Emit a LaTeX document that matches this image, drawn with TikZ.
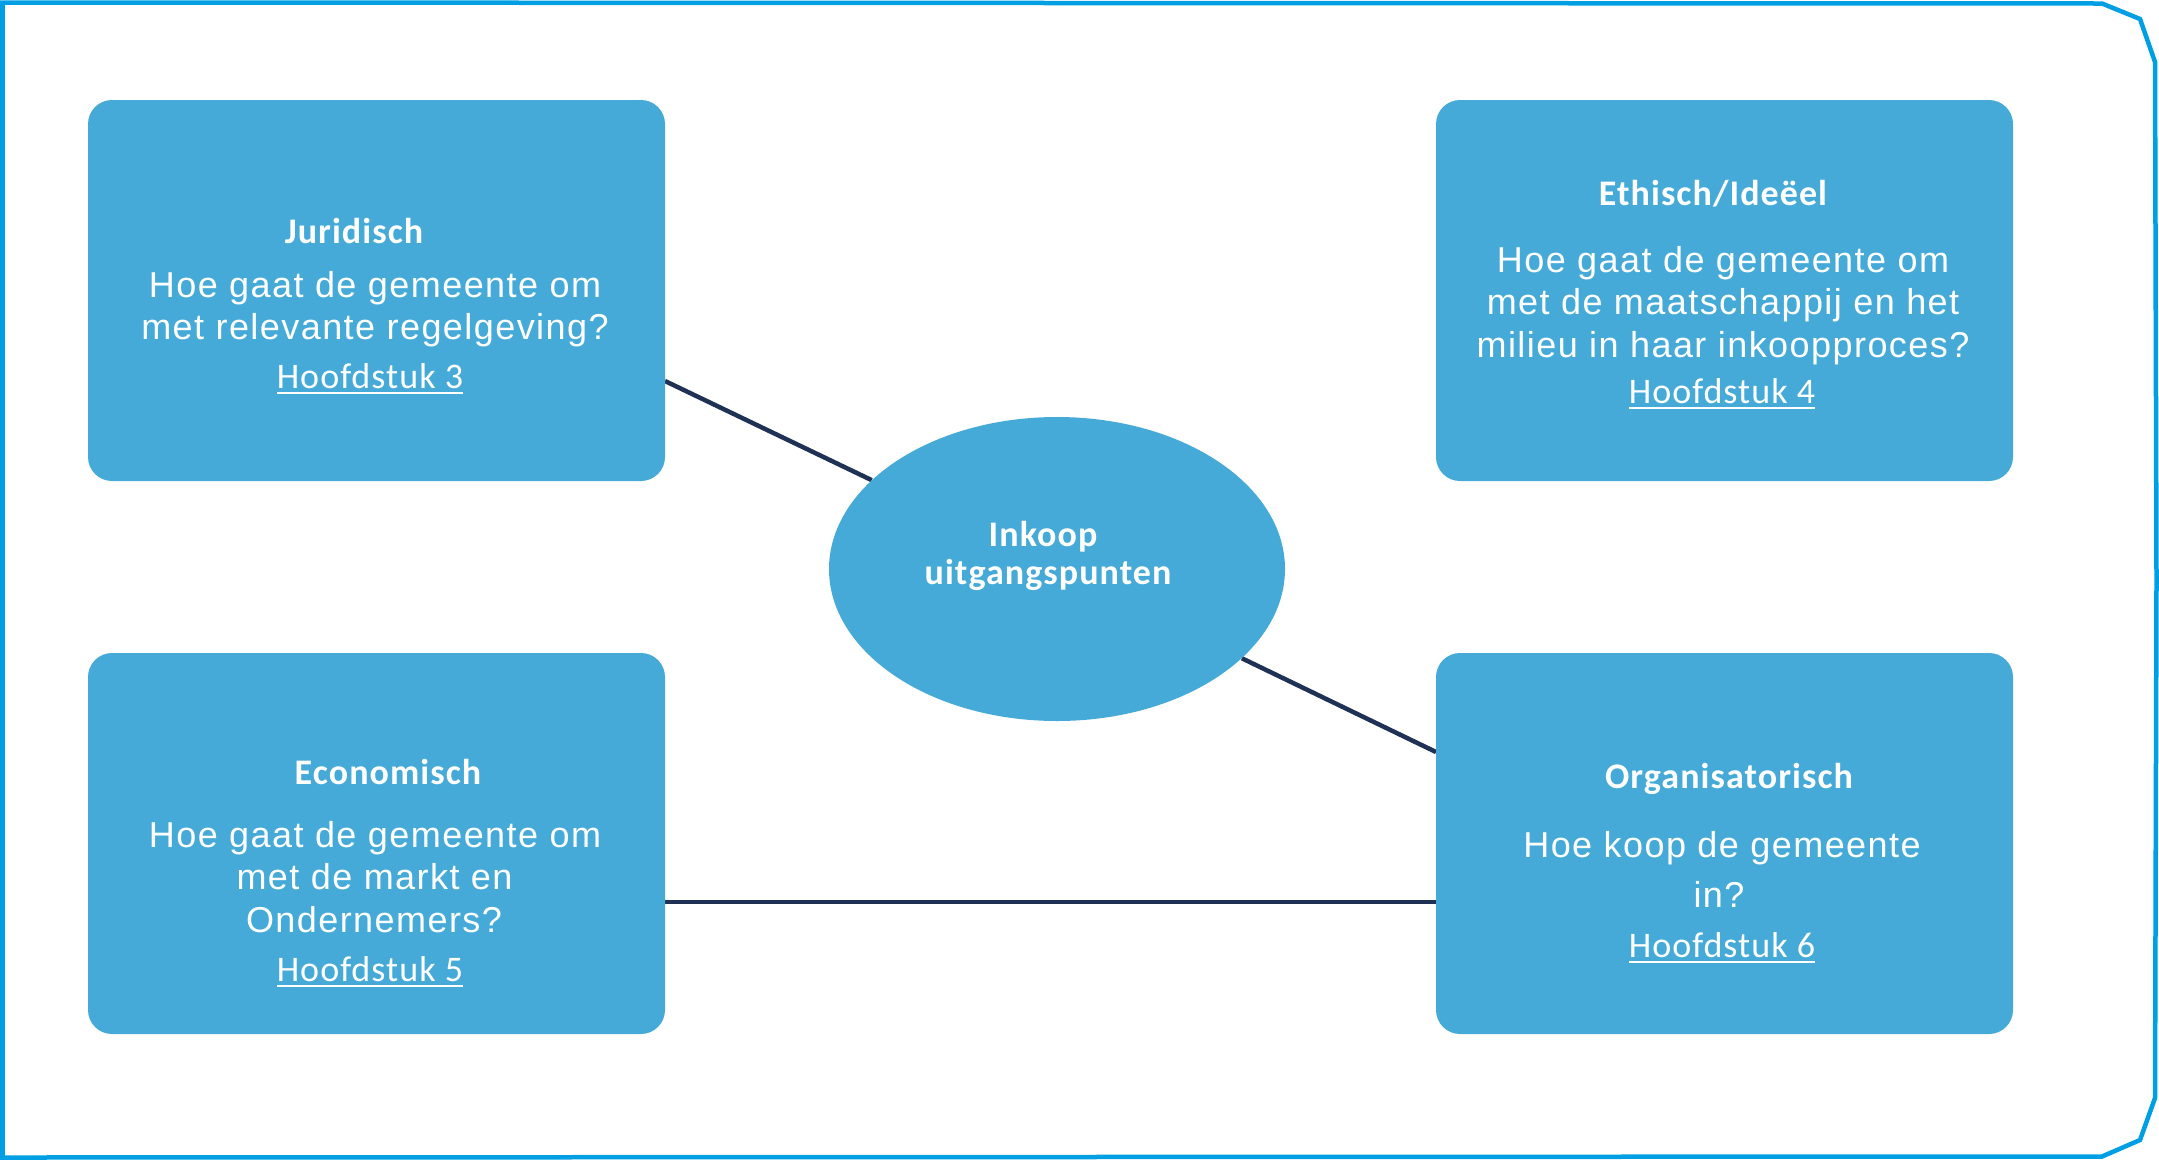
\documentclass[tikz,border=0pt]{standalone}
\usepackage{fontspec}
\setmainfont{Liberation Sans}
\newfontfamily\bodyfont[LetterSpace=4]{Liberation Sans}
\newfontfamily\calfont[LetterSpace=3]{Carlito}
\usetikzlibrary{shapes.geometric,backgrounds}
\definecolor{boxblue}{RGB}{69,170,216}
\definecolor{frameblue}{RGB}{0,159,227}
\definecolor{linenavy}{RGB}{31,49,84}
\newcommand\chapul[1]{\setbox0\hbox{#1}\rlap{\rule[-6pt]{\wd0}{2pt}}\box0}
\begin{document}
\begin{tikzpicture}[x=1pt,y=-1pt,
  card/.style={fill=boxblue, rounded corners=24pt, minimum width=577pt, minimum height=381pt, inner sep=0pt},
  hub/.style={ellipse, fill=boxblue, minimum width=456pt, minimum height=304pt, inner sep=0pt},
  conn/.style={draw=linenavy, line width=4.5pt},
  frame/.style={draw=frameblue, line width=4.5pt, line join=miter},
  title/.style={anchor=base, inner sep=0pt, text=white, font=\calfont\bfseries\fontsize{36}{42}\selectfont},
  body/.style={anchor=base, inner sep=0pt, text=white, font=\bodyfont\fontsize{36}{42}\selectfont},
  chap/.style={anchor=base, inner sep=0pt, text=white, font=\calfont\fontsize{36}{42}\selectfont},
]
\useasboundingbox (0,0) rectangle (2159,1160);

% outer frame
\draw[frame] (2.5,2.5) -- (2102,3.5) -- (2140,19) -- (2155,62) -- (2156.5,580)
  -- (2155,1098) -- (2140,1140) -- (2102,1156.5) -- (2.5,1157.5) -- cycle;

% boxes
\node[card] (jur) at (376.5,290.5) {};
\node[card] (eth) at (1724.5,290.5) {};
\node[card] (eco) at (376.5,843.5) {};
\node[card] (org) at (1724.5,843.5) {};
\node[hub] (hub) at (1057,569) {};

% connectors
\coordinate (jp) at (665,381);
\coordinate (op) at (1436,752);
\coordinate (ep) at (665,902);
\coordinate (opp) at (1436,902);
\begin{scope}[on background layer]
\draw[conn] (jp) -- (hub);
\draw[conn] (hub) -- (op);
\draw[conn] (ep) -- (opp);
\end{scope}

% Juridisch
\node[title] (jt) at (354,243) {Juridisch};
\node[body] (jb1) at (375,297) {Hoe gaat de gemeente om};
\node[body] (jb2) at (375,339) {met relevante regelgeving?};
\node[chap] (jc) at (370,388) {\chapul{Hoofdstuk 3}};

% Ethisch
\node[title] (et) at (1713,205) {Ethisch/Ideëel};
\node[body] (eb1) at (1723,272) {Hoe gaat de gemeente om};
\node[body] (eb2) at (1723,314) {met de maatschappij en het};
\node[body] (eb3) at (1723,357) {milieu in haar inkoopproces?};
\node[chap] (ec) at (1722,403) {\chapul{Hoofdstuk 4}};

% Economisch
\node[title] (ct) at (388,784) {Economisch};
\node[body] (cb1) at (375,847) {Hoe gaat de gemeente om};
\node[body] (cb2) at (374.5,889) {met de markt en};
\node[body] (cb3) at (374,932) {Ondernemers?};
\node[chap] (cc) at (370,981) {\chapul{Hoofdstuk 5}};

% Organisatorisch
\node[title] (ot) at (1729,788) {Organisatorisch};
\node[body] (ob1) at (1722,857) {Hoe koop de gemeente};
\node[body] (ob2) at (1719,907) {in?};
\node[chap] (oc) at (1722,957) {\chapul{Hoofdstuk 6}};

% hub text
\node[title] (h1) at (1043,546) {Inkoop};
\node[title] (h2) at (1048,584) {uitgangspunten};
\end{tikzpicture}
\end{document}
